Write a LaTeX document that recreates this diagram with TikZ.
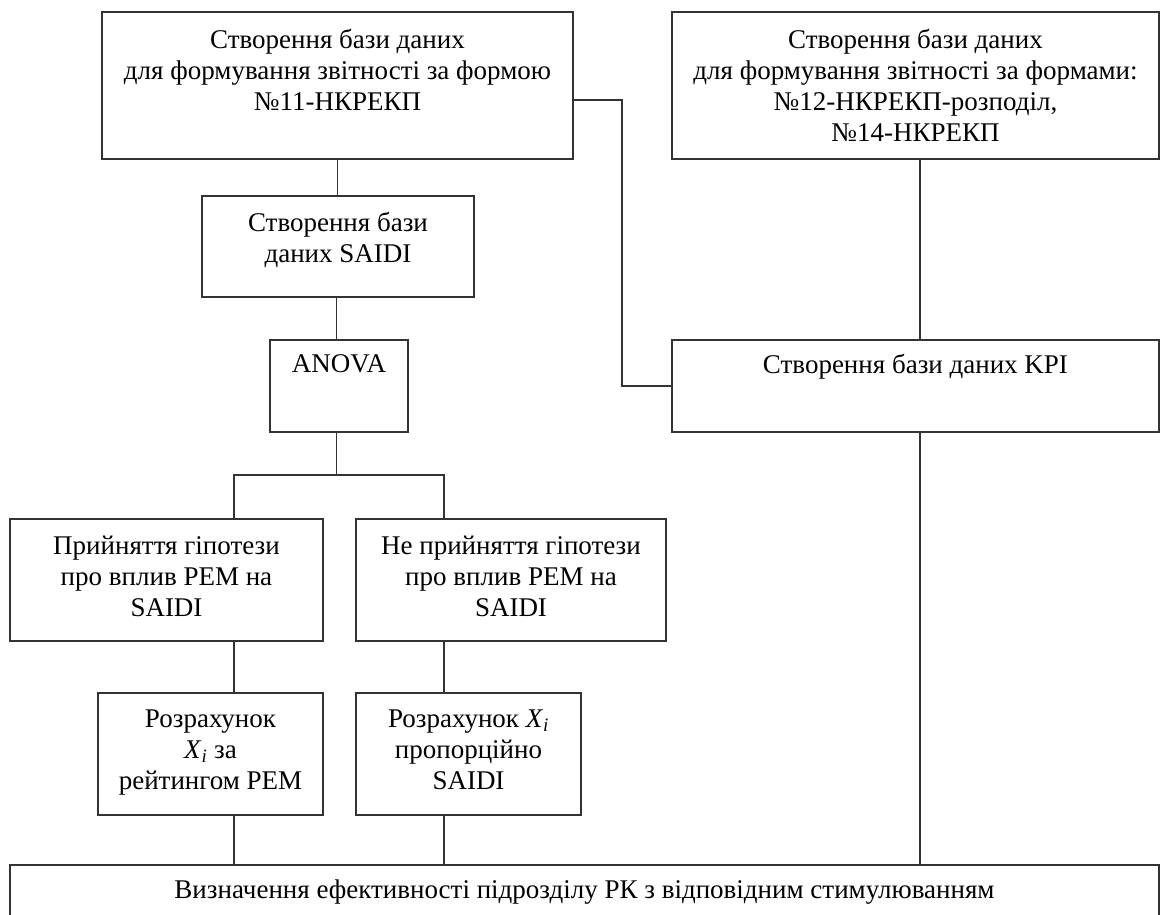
\documentclass[tikz,border=0pt]{standalone}
\usepackage{fontspec}
\setmainfont{Liberation Serif}
\usetikzlibrary{calc}
\newcommand{\xsub}{\textit{X}\textsubscript{\textit{i}}}
\begin{document}
\begin{tikzpicture}[x=1pt,y=-1pt,
  box/.style={draw=black!80, line width=1.2pt, inner sep=0pt},
  txt/.style={align=center, inner sep=0pt, anchor=north,
    font=\fontsize{27}{31}\selectfont},
  conn/.style={draw=black!80, line width=1.2pt}]
\useasboundingbox (0,0) rectangle (1161,914);
% boxes
\node[box, minimum width=471pt, minimum height=147pt] (a) at (337.5,85.5) {};
\node[box, minimum width=487pt, minimum height=147pt] (b) at (915.5,85.5) {};
\node[box, minimum width=272pt, minimum height=101pt] (s) at (338,246.5) {};
\node[box, minimum width=138pt, minimum height=92pt] (an) at (339,386) {};
\node[box, minimum width=487pt, minimum height=92pt] (k) at (915.5,386) {};
\node[box, minimum width=313pt, minimum height=122pt] (c) at (166.5,580) {};
\node[box, minimum width=310pt, minimum height=122pt] (d) at (511,580) {};
\node[box, minimum width=225pt, minimum height=122pt] (e) at (210.5,754) {};
\node[box, minimum width=225pt, minimum height=122pt] (f) at (468.5,754) {};
\node[box, minimum width=1149pt, minimum height=70pt] (g) at (584.5,900) {};
% texts
\node[txt] (ta) at ($(a.north)+(0,18)$) {Створення бази даних\\для формування звітності за формою\\№11-НКРЕКП};
\node[txt] (tb) at ($(b.north)+(0,18)$) {Створення бази даних\\для формування звітності за формами:\\№12-НКРЕКП-розподіл,\\№14-НКРЕКП};
\node[txt] (ts) at ($(s.north)+(0,17)$) {Створення бази\\даних SAIDI};
\node[txt] (tan) at ($(an.north)+(0,15)$) {ANOVA};
\node[txt] (tk) at ($(k.north)+(0,15)$) {Створення бази даних KPI};
\node[txt] (tc) at ($(c.north)+(0,17)$) {Прийняття гіпотези\\про вплив РЕМ на\\SAIDI};
\node[txt] (td) at ($(d.north)+(0,17)$) {Не прийняття гіпотези\\про вплив РЕМ на\\SAIDI};
\node[txt] (te) at ($(e.north)+(0,17)$) {Розрахунок\\\xsub{} за\\рейтингом РЕМ};
\node[txt] (tf) at ($(f.north)+(0,17)$) {Розрахунок \xsub\\пропорційно\\SAIDI};
\node[txt] (tg) at ($(g.north)+(0,15)$) {Визначення ефективності підрозділу РК з відповідним стимулюванням};
% junction points
\coordinate (ka) at (622,100);
\coordinate (bx) at (920,0);
\coordinate (j) at (336.5,475);
\coordinate (bl) at (234,475);
\coordinate (br) at (444,475);
% connectors
\draw[conn] (a.south) -- (a.south |- s.north);
\draw[conn] (ka -| a.east) -- (ka) -- (ka |- k.west) -- (k.west);
\draw[conn] (b.south -| bx) -- (k.north -| bx);
\draw[conn] (k.south -| bx) -- (g.north -| bx);
\draw[conn] (s.south -| j) -- (an.north -| j);
\draw[conn] (an.south -| j) -- (j);
\draw[conn] (c.north -| bl) -- (bl) -- (br) -- (br |- d.north);
\draw[conn] (c.south -| bl) -- (e.north -| bl);
\draw[conn] (d.south -| br) -- (f.north -| br);
\draw[conn] (e.south -| bl) -- (g.north -| bl);
\draw[conn] (f.south -| br) -- (g.north -| br);
\end{tikzpicture}
\end{document}
